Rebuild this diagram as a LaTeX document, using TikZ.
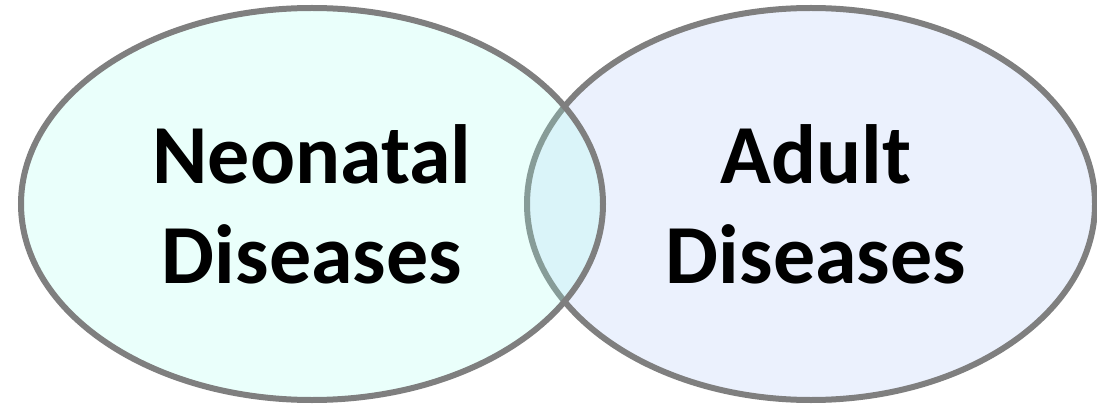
\documentclass[tikz,border=0pt]{standalone}
\usepackage{fontspec}
\setmainfont{Carlito}
\usepackage{tikz}

\definecolor{neoFill}{RGB}{165,255,239}
\definecolor{adultFill}{RGB}{235,241,253}
\definecolor{setLine}{RGB}{127,127,127}

\begin{document}
\begin{tikzpicture}[x=1pt,y=-1pt,
  setbox/.style={draw=setLine,line width=6pt},
  setlabel/.style={align=center,anchor=base,font=\fontsize{84}{100}\selectfont\bfseries}]
\useasboundingbox (0,0) rectangle (1097,406);
\draw[setbox,fill=adultFill] (811,204) ellipse [x radius=284,y radius=196];
\draw[setbox,fill=neoFill,fill opacity=0.23] (312,204) ellipse [x radius=291,y radius=196];
\node[setlabel] (neonatal) at (312,283) {Neonatal\\Diseases};
\node[setlabel] (adult) at (816,283) {Adult\\Diseases};
\end{tikzpicture}
\end{document}
